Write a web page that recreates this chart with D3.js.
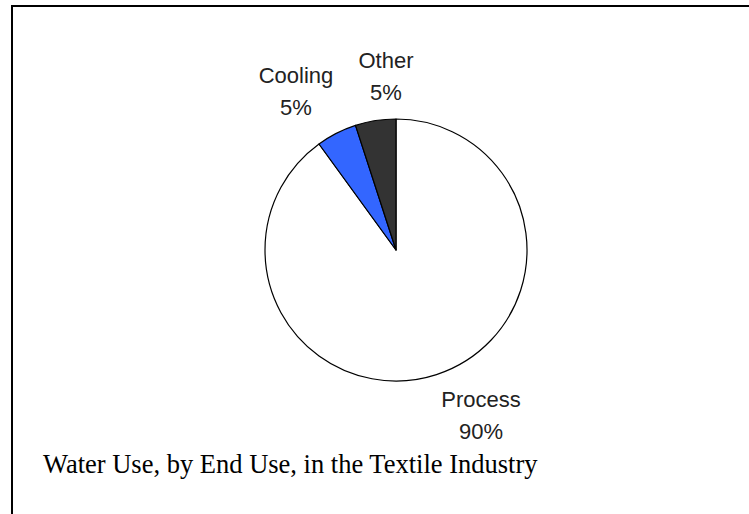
<!DOCTYPE html>
<html>
<head>
<meta charset="utf-8">
<script src="https://cdn.jsdelivr.net/npm/d3@7"></script>
<style>
  html, body { margin: 0; padding: 0; background: #fff; }
  .slice-label { font-family: "Liberation Sans", Arial, sans-serif; font-size: 22px; fill: #222; }
  .title { font-family: "Liberation Serif", "Times New Roman", serif; font-size: 26.5px; fill: #000; }
</style>
</head>
<body>
<div id="chart"></div>
<script>
const WIDTH = 749, HEIGHT = 514;

// data
const categories = ["Process", "Cooling", "Other"];
const shares = [90, 5, 5];
const colors = ["#ffffff", "#3366ff", "#333333"];

const CX = 396, CY = 250, R = 131;

// label anchor points (centre of first line)
const labelPos = {
  Process: [481, 407],
  Cooling: [296, 83],
  Other:   [386, 68]
};

const svg = d3.select("#chart").append("svg")
  .attr("width", WIDTH).attr("height", HEIGHT);

// frame, only top and left edges are visible
svg.append("path")
  .attr("d", `M12,${HEIGHT + 5} L12,6 L${WIDTH + 5},6`)
  .attr("fill", "none")
  .attr("stroke", "#000")
  .attr("stroke-width", 2);

const rows = categories.map((c, i) => ({ name: c, value: shares[i], color: colors[i] }));

const pie = d3.pie().sort(null).value(d => d.value);
const arc = d3.arc().innerRadius(0).outerRadius(R);

const g = svg.append("g").attr("transform", `translate(${CX},${CY})`);

g.selectAll("path.slice").data(pie(rows)).join("path")
  .attr("class", "slice")
  .attr("d", arc)
  .attr("fill", d => d.data.color)
  .attr("stroke", "#000")
  .attr("stroke-width", 1.2)
  .attr("stroke-linejoin", "round");

// labels: name + percent on two lines
const lab = svg.selectAll("text.slice-label").data(rows).join("text")
  .attr("class", "slice-label")
  .attr("text-anchor", "middle")
  .attr("x", d => labelPos[d.name][0])
  .attr("y", d => labelPos[d.name][1]);
lab.append("tspan").text(d => d.name);
lab.append("tspan")
  .attr("x", d => labelPos[d.name][0])
  .attr("dy", 32)
  .text(d => d.value + "%");

svg.append("text").attr("class", "title")
  .attr("x", 43).attr("y", 473)
  .text("Water Use, by End Use, in the Textile Industry");
</script>
</body>
</html>
